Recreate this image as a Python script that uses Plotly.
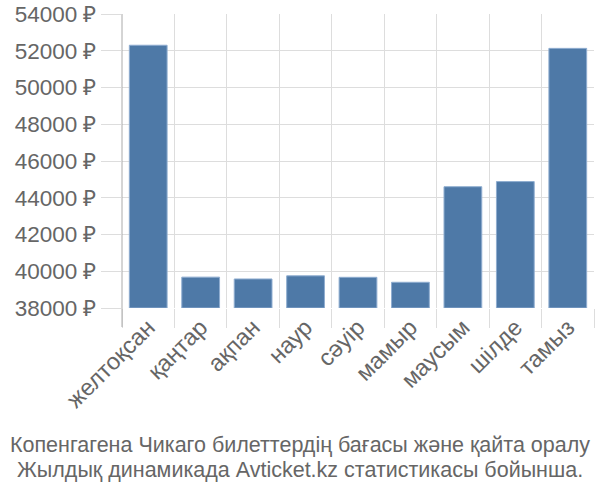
import plotly.graph_objects as go

months = ["желтоқсан", "қаңтар", "ақпан", "наур", "сәуір", "мамыр", "маусым", "шілде", "тамыз"]
prices = [52300, 39680, 39580, 39750, 39670, 39400, 44600, 44880, 52130]
y_ticks = [38000, 40000, 42000, 44000, 46000, 48000, 50000, 52000, 54000]
y_labels = [f"{v} ₽" for v in y_ticks]
caption_lines = [
    "Копенгагена Чикаго билеттердің бағасы және қайта оралу",
    "Жылдық динамикада Avticket.kz статистикасы бойынша.",
]

base = 38000
fig = go.Figure(go.Bar(
    x=months,
    y=[p - base for p in prices],
    base=base,
    marker=dict(color="#4e79a7", line=dict(color="#8fadd0", width=1)),
    width=0.72,
))

font_main = "Liberation Sans"
plot_top, plot_bottom, plot_left, plot_right = 14, 308, 122, 594
ph = plot_bottom - plot_top
pw = plot_right - plot_left

fig.update_layout(
    width=600, height=500,
    margin=dict(l=plot_left, r=600 - plot_right, t=plot_top, b=500 - plot_bottom),
    plot_bgcolor="white", paper_bgcolor="white",
    showlegend=False,
    xaxis=dict(
        type="category",
        tickson="boundaries",
        ticks="outside", ticklen=19, tickcolor="#dddddd", tickwidth=1,
        showgrid=True, gridcolor="#dddddd", gridwidth=1,
        tickangle=-45,
        tickfont=dict(family=font_main, size=23.5, color="#666666"),
        showline=False, zeroline=False,
        automargin=False,
    ),
    yaxis=dict(
        range=[38000, 54000],
        tickvals=y_ticks, ticktext=y_labels,
        ticks="outside", ticklen=20, tickcolor="#dddddd",
        showgrid=True, gridcolor="#dddddd", gridwidth=1,
        tickfont=dict(family=font_main, size=22.5, color="#666666"),
        showline=False,
        zeroline=False,
        automargin=False,
    ),
    shapes=[dict(
        type="line", xref="paper", yref="paper",
        x0=0, x1=0, y0=-19 / ph, y1=1,
        line=dict(color="#aaaaaa", width=1),
    )],
    annotations=[
        dict(
            text=line, xref="paper", yref="paper",
            x=(300 - plot_left) / pw, y=(plot_bottom - yc) / ph,
            xanchor="center", yanchor="middle", showarrow=False,
            font=dict(family=font_main, size=21.5, color="#666666"),
        )
        for line, yc in zip(caption_lines, [445, 470])
    ],
)
fig.write_html("out.html")
